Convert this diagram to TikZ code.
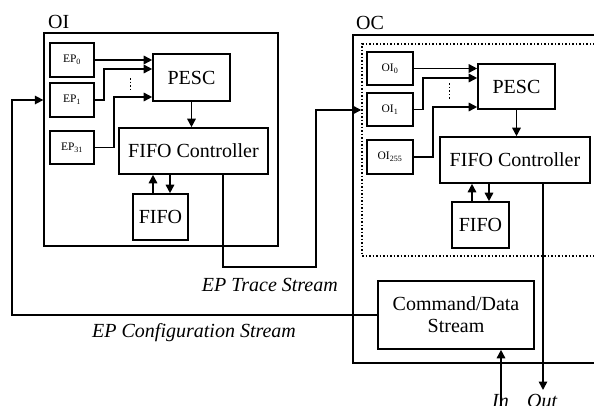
\documentclass[tikz,border=0pt]{standalone}
\usepackage{fontspec}
\setmainfont{Liberation Serif}
\usetikzlibrary{arrows.meta}
\tikzset{
  blk/.style={draw, line width=1.6pt, inner sep=0pt, font=\fontsize{20}{22}\selectfont, align=center},
  src/.style={draw, line width=1.6pt, inner sep=0pt, font=\fontsize{11.5}{13}\selectfont},
  frame/.style={draw, line width=1.3pt, inner sep=0pt},
  wire/.style={line width=1.6pt},
  arr/.style={line width=1.6pt, -{Triangle[length=8.5pt,width=8.5pt]}},
  lbl/.style={inner sep=0pt, font=\fontsize{20}{22}\selectfont},
  ilbl/.style={inner sep=0pt, font=\fontsize{20}{22}\selectfont\itshape},
}
\begin{document}
\begin{tikzpicture}[x=1pt,y=-1pt]
\useasboundingbox (0,0) rectangle (594,405);

% ---------------- OI block ----------------
\node[lbl, anchor=base west] (oilbl) at (48,28) {OI};
\node[frame, minimum width=234pt, minimum height=213pt] (oibox) at (161,139.5) {};
\node[src, minimum width=44pt, minimum height=34pt] (ep0) at (72,60) {EP\textsubscript{0}};
\node[src, minimum width=44pt, minimum height=34pt] (ep1) at (72,100) {EP\textsubscript{1}};
\node[src, minimum width=44pt, minimum height=33pt] (ep31) at (72,147.5) {EP\textsubscript{31}};
\node[blk, minimum width=77pt, minimum height=47pt] (pesca) at (191.5,77.5) {PESC};
\node[blk, minimum width=149pt, minimum height=46pt] (fca) at (193.5,151) {FIFO Controller};
\node[blk, minimum width=55pt, minimum height=46pt] (fifoa) at (160.5,217) {FIFO};

\draw[arr] (ep0.east) -- (pesca.west |- ep0.east);
\draw[arr] (ep1.east) -- ++(9,0) |- (pesca.west |- 0,69);
\draw[arr] (ep31.east) -- ++(19,0) |- (pesca.west |- 0,97);
\draw[wire, dotted, line width=1pt] (130,78) -- (130,91);
\draw[arr] (pesca.south) -- (fca.north -| pesca.south);
\draw[arr] (fifoa.north -| 153,0) -- (fca.south -| 153,0);
\draw[arr] (fca.south -| 170,0) -- (fifoa.north -| 170,0);

% ---------------- OC block ----------------
\node[lbl, anchor=base west] (oclbl) at (356,29) {OC};
\node[frame, minimum width=260pt, minimum height=328pt] (ocbox) at (483,199) {};
\node[draw, dotted, line width=1.5pt, inner sep=0pt, minimum width=250pt, minimum height=212pt] (dotbox) at (487,150) {};
\node[src, minimum width=46pt, minimum height=33pt] (oi0) at (390,68.5) {OI\textsubscript{0}};
\node[src, minimum width=46pt, minimum height=33pt] (oi1) at (390,109.5) {OI\textsubscript{1}};
\node[src, minimum width=46pt, minimum height=34pt] (oi255) at (390,157) {OI\textsubscript{255}};
\node[blk, minimum width=77pt, minimum height=45pt] (pescb) at (516.5,86.5) {PESC};
\node[blk, minimum width=150pt, minimum height=46pt] (fcb) at (515,160) {FIFO Controller};
\node[blk, minimum width=57pt, minimum height=46pt] (fifob) at (480.5,225) {FIFO};
\node[blk, minimum width=156pt, minimum height=68pt] (cmd) at (456,315) {Command/Data\\Stream};

\draw[arr] (oi0.east) -- (pescb.west |- oi0.east);
\draw[arr] (oi1.east) -- ++(9,0) |- (pescb.west |- 0,78);
\draw[arr] (oi255.east) -- ++(19,0) |- (pescb.west |- 0,107);
\draw[wire, dotted, line width=1pt] (449,83) -- (449,100);
\draw[arr] (pescb.south) -- (fcb.north -| pescb.south);
\draw[arr] (fifob.north -| 472,0) -- (fcb.south -| 472,0);
\draw[arr] (fcb.south -| 489,0) -- (fifob.north -| 489,0);

% ---------------- streams ----------------
\coordinate (trA) at (223,267);
\coordinate (trB) at (316,267);
\draw[arr] (fca.south -| trA) -- (trA) -- (trB) |- (dotbox.west |- 0,110);
\node[ilbl, anchor=base east] (trlbl) at (338,291) {EP Trace Stream};

\coordinate (cfA) at (12,315);
\draw[arr] (cmd.west) -- (cfA) |- (oibox.west |- 0,100);
\node[ilbl, anchor=base west] (cflbl) at (92,337) {EP Configuration Stream};

\coordinate (inend) at (501,412);
\coordinate (outend) at (543,390);
\draw[arr] (inend) -- (cmd.south -| inend);
\draw[arr] (fcb.south -| outend) -- (outend);
\node[ilbl, anchor=base west] (inlbl) at (492,407) {In};
\node[ilbl, anchor=base west] (outlbl) at (527,407) {Out};
\end{tikzpicture}
\end{document}
